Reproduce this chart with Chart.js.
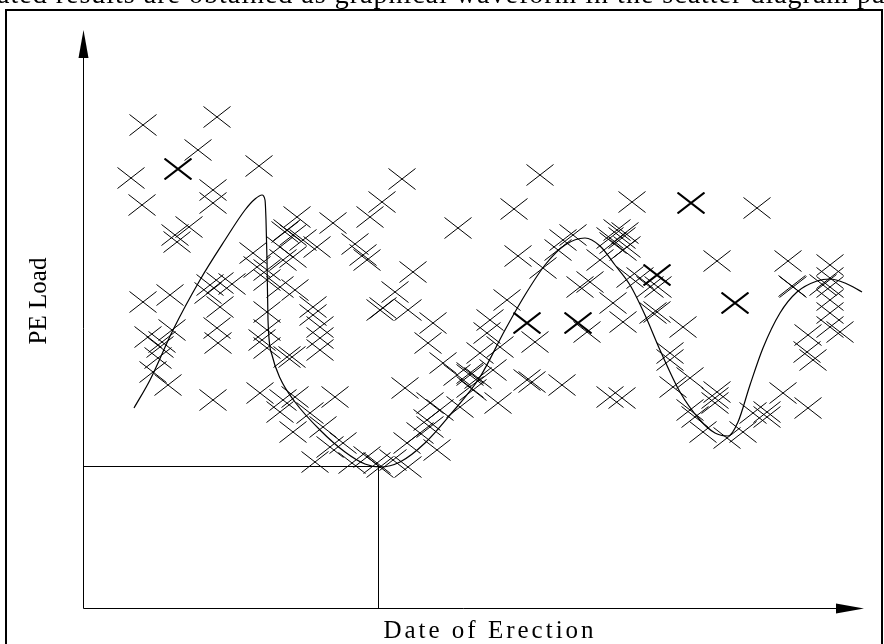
<!DOCTYPE html>
<html>
<head>
<meta charset="utf-8">
<script src="https://cdn.jsdelivr.net/npm/chart.js@4"></script>
<style>
  html, body { margin: 0; padding: 0; background: #fff; }
  #wrap { position: relative; width: 884px; height: 644px; }
</style>
</head>
<body>
<div id="wrap"><canvas id="scatter_chart"></canvas></div>
<script>
// measured points (date of erection, PE load) - arbitrary units, no ticks on the original
const dates = [60,134,115,48,59,176,130,130,92,106,214,204,210,220,202,197,210,200,174,170,184,184,197,234,250,287,299,319,272,280,284,375,330,312,300,212,230,457,431,549,674,94,
  60,87,127,137,149,125,137,134,135,89,79,77,75,70,85,130,177,184,184,179,184,204,197,65,
  230,237,237,237,209,252,212,200,227,240,210,247,260,232,269,284,294,297,310,325,322,350,345,297,325,360,374,387,390,347,357,344,347,324,354,337,
  407,404,397,417,452,504,530,540,570,395,387,410,387,415,444,449,479,527,539,377,490,534,527,539,530,435,475,480,460,517,544,497,507,424,547,542,540,557,575,
  634,705,747,709,747,747,747,740,600,574,567,587,587,607,590,632,632,634,607,612,620,644,660,670,684,684,700,725,725,724,730,747,757,747,710];
const loads = [483,491,458,430,403,442,418,405,373,381,391,378,373,368,376,361,351,348,341,355,338,328,321,361,385,391,406,429,364,353,348,380,336,316,300,318,301,433,399,406,400,366,
  306,313,323,325,324,315,301,280,265,278,266,261,250,236,223,208,215,296,278,268,260,251,196,271,
  293,281,270,258,251,211,211,208,195,181,176,161,165,146,145,151,145,141,148,141,220,285,265,298,298,245,233,233,218,205,198,188,181,165,158,175,
  288,275,255,261,266,276,305,286,295,230,235,238,221,205,228,226,223,211,210,201,373,378,370,370,365,352,358,368,340,348,361,321,326,308,331,375,358,330,321,
  347,347,343,322,330,321,308,323,281,296,321,255,248,230,221,210,205,216,198,191,176,170,176,195,196,191,215,200,273,256,248,281,276,295,321];
// markers printed heavier in the original
const boldDates = [95,608,652,444,495,574];
const boldLoads = [439,405,305,285,285,333];

// fitted waveform
const curveDates = [51,67,90,117,142,162,172,179,182,183,184,185,189,197,212,237,262,282,297,317,342,367,397,422,442,462,482,502,517,532,547,562,577,597,617,632,645,655,667,680,697,714,734,747,762,779];
const curveLoads = [200,228,278,328,368,398,409,413,408,388,348,288,253,230,206,178,156,144,141,146,165,193,231,278,313,343,363,370,362,343,323,293,258,216,188,175,172,186,223,260,295,316,327,329,325,316];

// reading of the minimum
const refDate = 295.5;
const refLoad = 141.5;

const xMax = 780;
const yMax = 580;

function crossMark(w, h, lw) {
  const c = document.createElement('canvas');
  c.width = w; c.height = h;
  const g = c.getContext('2d');
  g.strokeStyle = '#000';
  g.lineWidth = lw;
  g.beginPath();
  g.moveTo(0.5, 0.5); g.lineTo(w - 0.5, h - 0.5);
  g.moveTo(w - 0.5, 0.5); g.lineTo(0.5, h - 0.5);
  g.stroke();
  return c;
}
const thinX = crossMark(28, 22, 1);
const boldX = crossMark(28, 22, 2);

// frame, arrows and texts
const decoPlugin = {
  id: 'deco',
  beforeDraw(chart) {
    const ctx = chart.ctx;
    ctx.save();
    ctx.fillStyle = '#fff';
    ctx.fillRect(0, 0, chart.width, chart.height);
    // cut-off text line above the figure
    ctx.fillStyle = '#000';
    ctx.font = '28px "Liberation Serif", "DejaVu Serif", serif';
    ctx.textBaseline = 'alphabetic';
    ctx.letterSpacing = '1px';
    ctx.fillText('ated results are obtained as graphical waveform in the scatter diagram pa', -3, 3);
    ctx.letterSpacing = '0px';
    // figure border
    ctx.strokeStyle = '#000';
    ctx.lineWidth = 2;
    ctx.strokeRect(6, 10, 876, 660);
    ctx.restore();
  },
  afterDatasetsDraw(chart) {
    const ctx = chart.ctx;
    const a = chart.chartArea;
    const x0 = Math.round(a.left) + 0.5;
    const y0 = Math.round(a.bottom) + 0.5;
    ctx.save();
    ctx.strokeStyle = '#000';
    ctx.fillStyle = '#000';
    ctx.lineWidth = 1;
    ctx.beginPath();
    ctx.moveTo(x0, y0); ctx.lineTo(x0, a.top + 20);
    ctx.moveTo(x0, y0); ctx.lineTo(a.right - 20, y0);
    ctx.stroke();
    // y arrow
    ctx.beginPath();
    ctx.moveTo(x0, a.top + 2);
    ctx.lineTo(x0 - 5, a.top + 30);
    ctx.lineTo(x0 + 5, a.top + 30);
    ctx.closePath();
    ctx.fill();
    // x arrow
    ctx.beginPath();
    ctx.moveTo(a.right + 1, y0);
    ctx.lineTo(a.right - 27, y0 - 5);
    ctx.lineTo(a.right - 27, y0 + 5);
    ctx.closePath();
    ctx.fill();
    // axis titles
    ctx.font = '25px "Liberation Serif", "DejaVu Serif", serif';
    ctx.textAlign = 'center';
    ctx.textBaseline = 'alphabetic';
    ctx.letterSpacing = '3px';
    ctx.fillText('Date of Erection', 490, 638);
    ctx.letterSpacing = '0px';
    ctx.translate(46, 301);
    ctx.rotate(-Math.PI / 2);
    ctx.fillText('PE Load', 0, 0);
    ctx.restore();
  }
};

const ctx1 = document.getElementById('scatter_chart').getContext('2d');

const cfg1 = {
  type: 'scatter',
  data: {
    datasets: [
      {
        label: 'PE Load',
        data: dates.map((d, i) => ({ x: d, y: loads[i] })),
        pointStyle: thinX,
        pointRadius: 11,
        pointHoverRadius: 11
      },
      {
        label: 'PE Load (heavy)',
        data: boldDates.map((d, i) => ({ x: d, y: boldLoads[i] })),
        pointStyle: boldX,
        pointRadius: 11,
        pointHoverRadius: 11
      },
      {
        label: 'waveform',
        data: curveDates.map((d, i) => ({ x: d, y: curveLoads[i] })),
        showLine: true,
        borderColor: '#000',
        borderWidth: 1.2,
        pointRadius: 0,
        cubicInterpolationMode: 'monotone'
      },
      {
        label: 'reading',
        data: [{ x: 0, y: refLoad }, { x: refDate, y: refLoad }, { x: refDate, y: 0 }],
        showLine: true,
        borderColor: '#000',
        borderWidth: 1,
        pointRadius: 0,
        tension: 0
      }
    ]
  },
  options: {
    responsive: true,
    maintainAspectRatio: false,
    animation: false,
    layout: { padding: { left: 83, right: 21, top: 28, bottom: 36 } },
    plugins: {
      legend: { display: false },
      tooltip: { enabled: false }
    },
    scales: {
      x: { type: 'linear', min: 0, max: xMax, display: false },
      y: { type: 'linear', min: 0, max: yMax, display: false }
    }
  },
  plugins: [decoPlugin]
};

const scatter_chart = new Chart(ctx1, cfg1);
</script>
</body>
</html>
